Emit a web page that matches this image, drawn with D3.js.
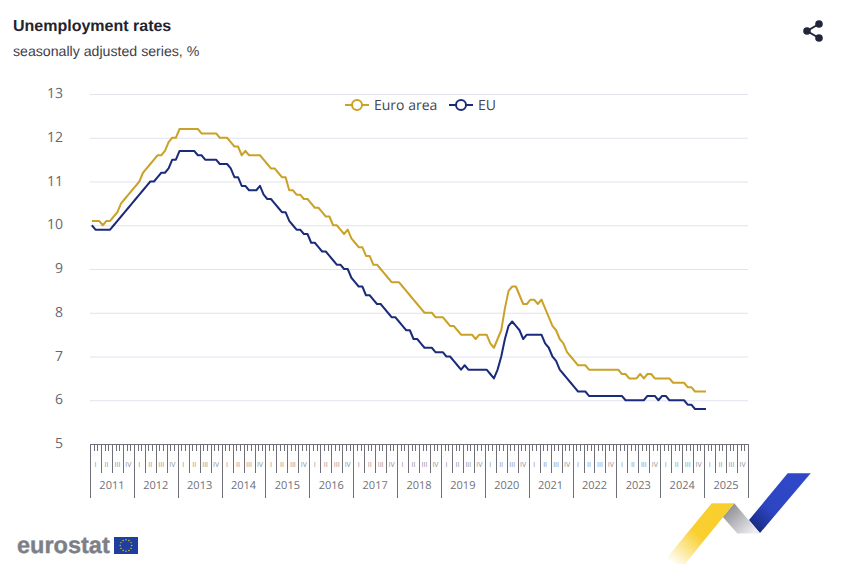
<!DOCTYPE html>
<html><head><meta charset="utf-8">
<script src="https://cdn.jsdelivr.net/npm/d3@7"></script>
<style>html,body{margin:0;padding:0;background:#fff}svg{display:block}text{text-rendering:geometricPrecision}</style>
</head><body><svg id="c" width="842" height="577"></svg>
<script>
const years=[2011,2012,2013,2014,2015,2016,2017,2018,2019,2020,2021,2022,2023,2024,2025];
const quarterLabels=["I","II","III","IV"];
const yTicks=[5,6,7,8,9,10,11,12,13];
const seriesNames=["Euro area","EU"];
const euroArea=[10.1,10.1,10.1,10.0,10.1,10.1,10.2,10.3,10.5,10.6,10.7,10.8,
10.9,11.0,11.2,11.3,11.4,11.5,11.6,11.6,11.7,11.9,12.0,12.0,
12.2,12.2,12.2,12.2,12.2,12.2,12.1,12.1,12.1,12.1,12.1,12.0,
12.0,12.0,11.9,11.8,11.8,11.6,11.7,11.6,11.6,11.6,11.6,11.5,
11.4,11.3,11.3,11.2,11.1,11.1,10.8,10.8,10.7,10.7,10.6,10.6,
10.5,10.4,10.4,10.3,10.2,10.2,10.0,10.0,9.9,9.8,9.9,9.7,
9.6,9.5,9.5,9.3,9.3,9.1,9.1,9.0,8.9,8.8,8.7,8.7,
8.7,8.6,8.5,8.4,8.3,8.2,8.1,8.0,8.0,8.0,7.9,7.9,
7.9,7.8,7.7,7.7,7.6,7.5,7.5,7.5,7.5,7.4,7.5,7.5,
7.5,7.3,7.2,7.4,7.6,8.1,8.5,8.6,8.6,8.4,8.2,8.2,
8.3,8.3,8.2,8.3,8.1,7.9,7.7,7.6,7.4,7.3,7.1,7.0,
6.9,6.8,6.8,6.8,6.7,6.7,6.7,6.7,6.7,6.7,6.7,6.7,
6.7,6.6,6.6,6.5,6.5,6.5,6.6,6.5,6.6,6.6,6.5,6.5,
6.5,6.5,6.5,6.4,6.4,6.4,6.4,6.3,6.3,6.2,6.2,6.2,
6.2];
const eu=[10.0,9.9,9.9,9.9,9.9,9.9,10.0,10.1,10.2,10.3,10.4,10.5,
10.6,10.7,10.8,10.9,11.0,11.0,11.1,11.2,11.2,11.3,11.5,11.5,
11.7,11.7,11.7,11.7,11.7,11.6,11.6,11.5,11.5,11.5,11.5,11.4,
11.4,11.4,11.3,11.1,11.1,10.9,10.9,10.8,10.8,10.8,10.9,10.7,
10.6,10.6,10.5,10.4,10.3,10.3,10.1,10.0,9.9,9.9,9.8,9.8,
9.6,9.6,9.5,9.4,9.4,9.3,9.2,9.1,9.1,9.0,9.0,8.8,
8.7,8.6,8.6,8.4,8.4,8.3,8.2,8.2,8.1,8.0,7.9,7.9,
7.8,7.7,7.6,7.6,7.4,7.4,7.3,7.2,7.2,7.2,7.1,7.1,
7.1,7.0,7.0,6.9,6.8,6.7,6.8,6.7,6.7,6.7,6.7,6.7,
6.7,6.6,6.5,6.7,7.0,7.4,7.7,7.8,7.7,7.6,7.4,7.5,
7.5,7.5,7.5,7.5,7.3,7.2,7.0,6.9,6.7,6.6,6.5,6.4,
6.3,6.2,6.2,6.2,6.1,6.1,6.1,6.1,6.1,6.1,6.1,6.1,
6.1,6.1,6.0,6.0,6.0,6.0,6.0,6.0,6.1,6.1,6.1,6.0,
6.1,6.1,6.0,6.0,6.0,6.0,6.0,5.9,5.9,5.8,5.8,5.8,
5.8];
const colors=["#c9a227","#1a2b7a"];
const sans='"Open Sans",sans-serif', arial='"Liberation Sans",Arial,sans-serif';
const axisCol="#6e6f78";

const svg=d3.select("#c");
const x=d3.scaleLinear().domain([0,180]).range([90,748]);
const y=d3.scaleLinear().domain([5,13]).range([444,94]);

// titles
svg.append("text").attr("x",13).attr("y",31).attr("font-family",arial).attr("font-weight",700).attr("font-size",16).attr("fill","#23232f").text("Unemployment rates");
svg.append("text").attr("x",13).attr("y",56).attr("font-family",arial).attr("font-size",14.15).attr("fill","#3d3d47").text("seasonally adjusted series, %");

// grid and y labels
svg.append("g").selectAll("line").data(yTicks.slice(1)).join("line")
 .attr("x1",90).attr("x2",748).attr("y1",d=>y(d)+.5).attr("y2",d=>y(d)+.5)
 .attr("stroke","#e1e3ef").attr("stroke-width",1);
svg.append("g").selectAll("text").data(yTicks).join("text")
 .attr("x",63).attr("y",d=>y(d)+4).attr("text-anchor","end").attr("font-family",sans).attr("font-size",14).attr("fill","#666771").text(d=>d);

// time axis
const ax=svg.append("g").attr("stroke",axisCol).attr("stroke-width",1);
ax.append("line").attr("x1",90).attr("x2",748.5).attr("y1",444.5).attr("y2",444.5);
const months=d3.range(0,181);
ax.selectAll("line.m").data(months).join("line").attr("class","m")
 .attr("x1",d=>Math.round(x(d))+.5).attr("x2",d=>Math.round(x(d))+.5).attr("y1",444)
 .attr("y2",d=>d%12===0?498:d%3===0?473:451);
const quarters=d3.range(0,60);
svg.append("g").selectAll("text").data(quarters).join("text")
 .attr("x",d=>x(d*3+1.5)).attr("y",467).attr("text-anchor","middle").attr("font-family",sans).attr("font-size",7).attr("fill","#8f9098")
 .text(d=>quarterLabels[d%4]);
svg.append("g").selectAll("text").data(years).join("text")
 .attr("x",(d,i)=>x(i*12+6)).attr("y",489).attr("text-anchor","middle").attr("font-family",sans).attr("font-size",11).attr("fill","#6e6f78").text(d=>d);

// lines
const line=d3.line().x((d,i)=>x(i+.5)).y(d=>y(d));
[euroArea,eu].forEach((s,k)=>{
 svg.append("path").attr("d",line(s)).attr("fill","none").attr("stroke",colors[k]).attr("stroke-width",2).attr("stroke-linejoin","round");
});

// legend
const lg=[{x0:345,t:374},{x0:449,t:478}];
seriesNames.forEach((n,k)=>{
 const g=svg.append("g");
 g.append("line").attr("x1",lg[k].x0).attr("x2",lg[k].x0+24).attr("y1",105).attr("y2",105).attr("stroke",colors[k]).attr("stroke-width",2);
 g.append("circle").attr("cx",lg[k].x0+12).attr("cy",105).attr("r",5).attr("fill","#fff").attr("stroke",colors[k]).attr("stroke-width",2);
 g.append("text").attr("x",lg[k].t).attr("y",110).attr("font-family",sans).attr("font-size",14).attr("fill","#44444e").text(n);
});

// share icon
const sh=svg.append("g").attr("fill","#23263a").attr("stroke","#23263a");
sh.append("path").attr("d","M819 24L807 31L819 38").attr("fill","none").attr("stroke-width",2);
[[819,24],[807,31],[819,38]].forEach(p=>sh.append("circle").attr("cx",p[0]).attr("cy",p[1]).attr("r",3.8).attr("stroke","none"));

// eurostat logo
svg.append("text").attr("x",17).attr("y",553).attr("font-family",arial).attr("font-weight",700).attr("font-size",23.5).attr("fill","#7d7f88").attr("stroke","#7d7f88").attr("stroke-width",.4).text("eurostat");
svg.append("rect").attr("x",114).attr("y",537).attr("width",24).attr("height",17).attr("fill","#1f3f9e");
d3.range(12).forEach(i=>{const a=i/12*2*Math.PI;
 svg.append("circle").attr("cx",126+5.8*Math.cos(a)).attr("cy",545.5+5.8*Math.sin(a)).attr("r",.7).attr("fill","#e8c832");});

// ribbon
const defs=svg.append("defs");
function grad(id,x1,y1,x2,y2,stops){const g=defs.append("linearGradient").attr("id",id).attr("gradientUnits","userSpaceOnUse").attr("x1",x1).attr("y1",y1).attr("x2",x2).attr("y2",y2);
 stops.forEach(s=>g.append("stop").attr("offset",s[0]).attr("stop-color",s[1]).attr("stop-opacity",s[2]));}
grad("gy",725,505,672,564,[[0,"#f9cf2f",1],[.5,"#f9cf2f",1],[1,"#f9cf2f",0]]);
grad("gg",728,508,752,534,[[0,"#8f9095",1],[1,"#eeeef2",1]]);
grad("gb",795,480,752,528,[[0,"#2f48c8",1],[.6,"#2d45c2",1],[1,"#18287e",1]]);
svg.append("path").attr("d","M787.7 473.3L810.7 473.3L760 533L749 520Z").attr("fill","url(#gb)");
svg.append("path").attr("d","M734.3 503.3L722.7 516.7L737.3 533.5L760 533.5Z").attr("fill","url(#gg)");
svg.append("path").attr("d","M711.7 503.3L734.3 503.3L685 564L661.7 564Z").attr("fill","url(#gy)");
</script></body></html>
